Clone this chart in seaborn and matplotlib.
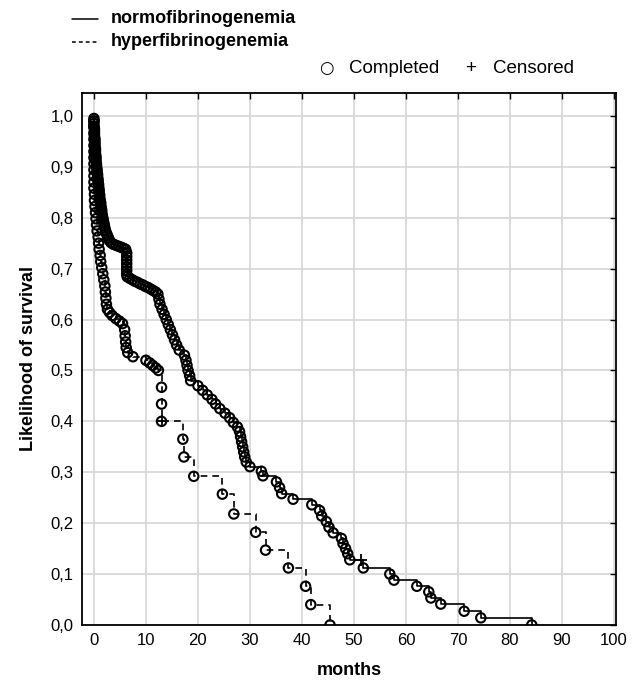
import numpy as np
import pandas as pd
import matplotlib.pyplot as plt
import seaborn as sns
from matplotlib.lines import Line2D

# normofibrinogenemia - completed events (months, cumulative survival)
normo_months = [0.0, 0.0, 0.0, 0.0, 0.1, 0.1, 0.1, 0.1, 0.2, 0.2, 0.2, 0.2, 0.3, 0.3,
                0.3, 0.4, 0.4, 0.4, 0.5, 0.5, 0.6, 0.6, 0.7, 0.7, 0.8, 0.8, 0.9, 0.9,
                1.0, 1.0, 1.1, 1.1, 1.2, 1.3, 1.3, 1.4, 1.5, 1.5, 1.6, 1.7, 1.8, 1.9,
                2.0, 2.1, 2.2, 2.4, 2.6, 2.8, 3.0, 3.3, 3.7, 4.2, 4.7, 5.2, 5.7, 6.1,
                6.3, 6.3, 6.3, 6.3, 6.3, 6.3, 6.3, 6.4,
                6.9, 7.4, 7.9, 8.4, 8.9, 9.4, 9.9, 10.4, 10.9, 11.4, 11.9, 12.3,
                12.5, 12.7, 13.1, 13.5, 13.9, 14.3, 14.7, 15.1, 15.5, 15.9, 16.4,
                17.4, 17.7, 17.9, 18.1, 18.4, 18.6, 20.0, 20.9, 21.8, 22.7, 23.4,
                24.2, 25.2, 26.1, 26.8, 27.6, 28.0, 28.2, 28.4, 28.6, 28.8, 29.0,
                29.3, 30.0, 32.2, 32.5, 35.1, 35.7, 36.1, 38.3, 41.9, 43.4, 43.8,
                44.7, 45.2, 46.0, 47.6, 47.9, 48.4, 48.8, 49.2, 51.8, 56.9, 57.7,
                62.1, 64.4, 64.8, 66.7, 71.2, 74.4, 84.2]
normo_surv = [0.995, 0.990, 0.985, 0.980, 0.975, 0.970, 0.965, 0.960, 0.955, 0.950,
              0.945, 0.940, 0.935, 0.930, 0.925, 0.920, 0.915, 0.910, 0.905, 0.900,
              0.895, 0.890, 0.885, 0.880, 0.875, 0.870, 0.865, 0.860, 0.855, 0.850,
              0.845, 0.840, 0.835, 0.830, 0.825, 0.820, 0.815, 0.810, 0.805, 0.800,
              0.795, 0.790, 0.785, 0.780, 0.775, 0.770, 0.765, 0.760, 0.755, 0.751,
              0.748, 0.746, 0.744, 0.742, 0.740, 0.738,
              0.731, 0.724, 0.717, 0.710, 0.703, 0.696, 0.689, 0.684,
              0.681, 0.678, 0.675, 0.673, 0.670, 0.668, 0.665, 0.663, 0.660, 0.657,
              0.654, 0.650,
              0.640, 0.630, 0.620, 0.610, 0.600, 0.590, 0.580, 0.570, 0.560, 0.550,
              0.540,
              0.530, 0.520, 0.510, 0.500, 0.490, 0.480, 0.470, 0.461, 0.452, 0.443,
              0.434, 0.425, 0.416, 0.407, 0.398, 0.389, 0.380, 0.370, 0.360, 0.350,
              0.340, 0.330, 0.320, 0.311, 0.302, 0.293, 0.281, 0.270, 0.258, 0.247,
              0.236, 0.225, 0.214, 0.203, 0.192, 0.181, 0.170, 0.160, 0.150, 0.140,
              0.128, 0.112, 0.100, 0.088, 0.076, 0.065, 0.053, 0.041, 0.027, 0.014,
              0.0]
normo_cens_months = [51.3]
normo_cens_surv = [0.128]

# hyperfibrinogenemia - completed events
hyper_months = [0.0, 0.0, 0.0, 0.0, 0.0, 0.0, 0.0, 0.0, 0.0, 0.0, 0.0,
                0.0, 0.1, 0.1, 0.2, 0.3, 0.4, 0.5, 0.6, 0.8, 0.9, 1.0, 1.2, 1.3,
                1.5, 1.7, 1.9, 2.1, 2.2, 2.3, 2.4, 2.6, 3.0, 3.5, 4.2, 4.9, 5.5,
                5.9, 6.0, 6.1, 6.2, 6.5, 7.5, 10.0, 10.7, 11.3, 11.9, 12.4, 13.0,
                13.0, 13.0, 17.1, 17.3, 19.2, 24.7, 26.9, 31.1, 33.0, 37.4, 40.7,
                41.7, 45.4]
hyper_surv = [0.990, 0.978, 0.966, 0.954, 0.942, 0.930, 0.918, 0.906, 0.894, 0.882,
              0.870, 0.858, 0.846, 0.834, 0.822, 0.810, 0.798, 0.786, 0.774, 0.762,
              0.750, 0.738, 0.726, 0.714, 0.702, 0.690, 0.678, 0.666, 0.654, 0.642,
              0.630, 0.620, 0.614, 0.608, 0.602, 0.597, 0.592, 0.580, 0.568, 0.556,
              0.545, 0.535, 0.527, 0.520, 0.515, 0.510, 0.505, 0.500, 0.467, 0.434,
              0.400, 0.365, 0.330, 0.292, 0.257, 0.218, 0.182, 0.147, 0.112, 0.076,
              0.040, 0.0]
hyper_cens_months = [13.0]
hyper_cens_surv = [0.400]

x_ticks = list(range(0, 101, 10))
y_ticks = [0.0, 0.1, 0.2, 0.3, 0.4, 0.5, 0.6, 0.7, 0.8, 0.9, 1.0]
y_tick_labels = ['0,0', '0,1', '0,2', '0,3', '0,4', '0,5', '0,6', '0,7', '0,8', '0,9', '1,0']

sns.set_style('white')
plt.rcParams['font.family'] = ['Liberation Sans', 'DejaVu Sans']
plt.rcParams['text.color'] = 'black'
plt.rcParams['axes.labelcolor'] = 'black'

fig = plt.figure(figsize=(6.32, 6.87), dpi=100)
ax = fig.add_axes([0.1297, 0.0903, 0.845, 0.7743])

groups = [
    (normo_months, normo_surv, normo_cens_months, normo_cens_surv, '-'),
    (hyper_months, hyper_surv, hyper_cens_months, hyper_cens_surv, (0, (4, 3))),
]
for months, surv, cm, cs, ls in groups:
    step = pd.DataFrame({'months': [0.0] + months, 'surv': [1.0] + surv})
    sns.lineplot(data=step, x='months', y='surv', ax=ax, estimator=None, sort=False,
                 drawstyle='steps-post', color='black', linewidth=1.2, linestyle=ls)
    sns.scatterplot(x=months, y=surv, ax=ax, marker='o', s=46,
                    facecolors='none', edgecolors='black', linewidth=1.5, zorder=3)
    sns.scatterplot(x=cm, y=cs, ax=ax, marker='+', s=75, color='black',
                    linewidth=1.3, zorder=3)

ax.set_xlim(-2.3, 100.4)
ax.set_ylim(0.0, 1.045)
ax.set_xticks(x_ticks)
ax.set_yticks(y_ticks)
ax.set_yticklabels(y_tick_labels)
ax.grid(True, color='#d6d6d6', linewidth=1.2)
ax.set_axisbelow(True)
ax.tick_params(direction='in', top=True, right=True, length=4, width=1,
               labelsize=12, colors='black', pad=6)
for sp in ax.spines.values():
    sp.set_color('black')
    sp.set_linewidth(1.3)

ax.set_xlabel('months', fontsize=13, fontweight='bold', labelpad=10)
ax.set_ylabel('Likelihood of survival', fontsize=13, fontweight='bold', labelpad=10)

# legend at the top
for yy, ls, label in [(0.973, '-', 'normofibrinogenemia'),
                      (0.939, (0, (2.5, 2)), 'hyperfibrinogenemia')]:
    fig.add_artist(Line2D([0.114, 0.155], [yy, yy], transform=fig.transFigure,
                          color='black', linewidth=1.1, linestyle=ls))
    fig.text(0.175, yy, label, fontsize=13, fontweight='bold',
             va='center', ha='left')

fig.text(0.516, 0.901, '\u25cb', fontsize=12, va='center', ha='center',
         family=['DejaVu Sans'])
fig.text(0.553, 0.901, 'Completed', fontsize=13.5, va='center', ha='left')
fig.text(0.745, 0.901, '+', fontsize=13.5, va='center', ha='center')
fig.text(0.780, 0.901, 'Censored', fontsize=13.5, va='center', ha='left')

fig.savefig('out.png', dpi=100)
